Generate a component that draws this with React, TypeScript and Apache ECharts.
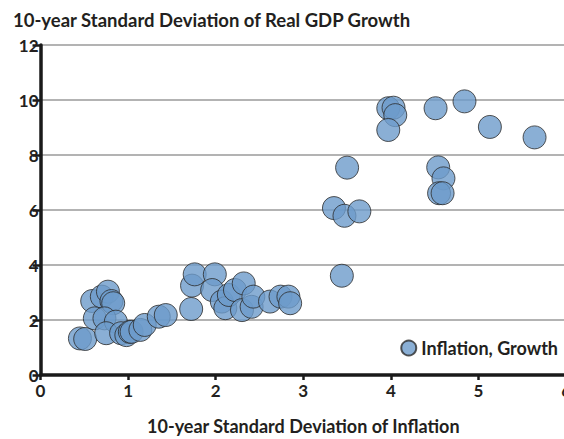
import React, { useEffect, useRef } from "react";
import * as echarts from "echarts";

const chartTitle = "10-year Standard Deviation of Real GDP Growth";
const xAxisTitle = "10-year Standard Deviation of Inflation";
const seriesName = "Inflation, Growth";

const inflationValues = [
  0.45, 0.51, 0.59, 0.70, 0.77, 0.81, 0.83, 0.62, 0.73, 0.86, 0.75, 0.92, 0.98, 1.02, 1.04, 1.14, 1.19, 1.35, 1.43,
  1.72, 1.73, 1.76, 1.99, 1.96, 2.07, 2.11, 2.15, 2.22, 2.32, 2.30, 2.41, 2.43, 2.62, 2.74, 2.83, 2.85,
  3.35, 3.47, 3.64, 3.44, 3.50, 3.97, 4.03, 4.05, 3.97, 4.51, 4.84, 5.13, 5.64, 4.54, 4.60, 4.55, 4.59,
];
const growthValues = [
  1.33, 1.31, 2.69, 2.85, 3.03, 2.69, 2.61, 2.06, 2.06, 1.94, 1.52, 1.52, 1.45, 1.57, 1.57, 1.64, 1.82, 2.12, 2.18,
  2.40, 3.25, 3.66, 3.66, 3.09, 2.67, 2.43, 2.91, 3.09, 3.33, 2.36, 2.48, 2.85, 2.67, 2.85, 2.85, 2.61,
  6.07, 5.79, 5.95, 3.61, 7.54, 9.70, 9.72, 9.45, 8.91, 9.70, 9.95, 9.02, 8.64, 7.55, 7.15, 6.61, 6.61,
];

const FONT = "Lato, 'Open Sans', sans-serif";
const TEXT = "#231f20";

export default function App() {
  const ref = useRef<HTMLDivElement>(null);
  useEffect(() => {
    if (!ref.current) return;
    const chart = echarts.init(ref.current, undefined, { renderer: "svg" });
    const data = inflationValues.map((x, i) => [x, growthValues[i]]);
    chart.setOption({
      animation: false,
      backgroundColor: "#ffffff",
      title: {
        text: chartTitle,
        left: 13,
        top: 10,
        padding: 0,
        textStyle: { fontFamily: FONT, fontSize: 18.5, fontWeight: "bold", color: TEXT },
      },
      legend: {
        right: 6,
        top: 339,
        padding: 0,
        icon: "circle",
        itemWidth: 15,
        itemHeight: 15,
        itemGap: 6,
        textStyle: { fontFamily: FONT, fontSize: 18, fontWeight: "bold", color: TEXT },
        data: [seriesName],
      },
      grid: { left: 40.5, width: 525.6, top: 45, height: 330, outerBoundsMode: "none", containLabel: false },
      xAxis: {
        type: "value",
        min: 0,
        max: 6,
        interval: 1,
        name: xAxisTitle,
        nameLocation: "middle",
        nameGap: 42,
        nameTextStyle: { fontFamily: FONT, fontSize: 18, fontWeight: "bold", color: TEXT },
        axisLine: { show: true, lineStyle: { color: "#1a1a1a", width: 3.5 } },
        axisTick: { show: true, length: 5, lineStyle: { color: "#1a1a1a", width: 2.5 } },
        axisLabel: { fontFamily: FONT, fontSize: 17, fontWeight: "bold", color: TEXT, margin: 7 },
        splitLine: { show: false },
      },
      yAxis: {
        type: "value",
        min: 0,
        max: 12,
        interval: 2,
        axisLine: { show: true, lineStyle: { color: "#1a1a1a", width: 3.5 } },
        axisTick: { show: true, length: 8, lineStyle: { color: "#1a1a1a", width: 2.5 } },
        axisLabel: { fontFamily: FONT, fontSize: 17, fontWeight: "bold", color: TEXT, margin: 2 },
        splitLine: { show: true, lineStyle: { color: "#9a9a9a", width: 1.5 } },
      },
      series: [
        {
          name: seriesName,
          type: "scatter",
          data,
          symbol: "circle",
          symbolSize: 23,
          itemStyle: { color: "#6d9bcb", borderColor: "#2b2b2b", borderWidth: 1 },
        },
      ],
    });
    return () => chart.dispose();
  }, []);
  return (
    <div
      ref={ref}
      style={{ position: "fixed", left: 0, top: 0, width: 564, height: 439 }}
    />
  );
}
